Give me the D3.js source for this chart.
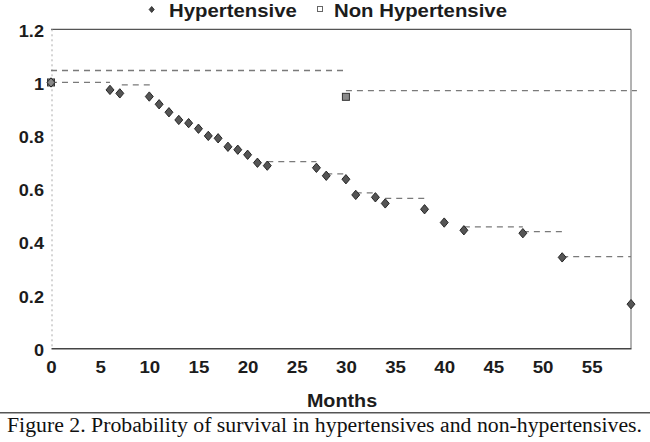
<!DOCTYPE html>
<html>
<head>
<meta charset="utf-8">
<script src="https://cdn.jsdelivr.net/npm/d3@7"></script>
<style>
  html, body { margin: 0; padding: 0; background: #fff; }
  svg { display: block; }
</style>
</head>
<body>
<div id="chart"></div>
<script>
// Survival data.
const hyperMonths = [0, 6, 7, 10, 11, 12, 13, 14, 15, 16, 17, 18, 19, 20, 21, 22,
  27, 28, 30, 31, 33, 34, 38, 40, 42, 48, 52, 59];
const hyperSurvival = [1.0, 0.972, 0.959, 0.947, 0.918, 0.888, 0.859, 0.847, 0.826,
  0.799, 0.790, 0.758, 0.747, 0.728, 0.698, 0.687, 0.679, 0.649, 0.636, 0.577,
  0.568, 0.545, 0.523, 0.473, 0.444, 0.433, 0.342, 0.166];

// Dashed step pieces: [from month, to month, level]
const hyperSteps = [
  [0, 6, 1.0], [7.2, 10.2, 0.991], [22, 27, 0.702], [28, 30, 0.656],
  [31, 33, 0.585], [34, 38, 0.564], [42, 48, 0.457], [48, 52, 0.439],
  [52, 59, 0.345]
];

const nonMonths = [0, 30];
const nonSurvival = [1.0, 0.946];
const nonSteps = [[0, 30, 1.045], [30, 59.6, 0.969]];

const xTicks = [0, 5, 10, 15, 20, 25, 30, 35, 40, 45, 50, 55];
const yTicks = [0, 0.2, 0.4, 0.6, 0.8, 1.0, 1.2];

const seriesNames = ['Hypertensive', 'Non Hypertensive'];
const xLabel = 'Months';
const caption = 'Figure 2. Probability of survival in hypertensives and non-hypertensives.';

const W = 650, H = 442;
const margins = { top: 29.3, right: 19, bottom: 93.7, left: 51 };
const width = W - margins.left - margins.right;
const height = H - margins.top - margins.bottom;

const FONT = 'Liberation Sans, Arial, sans-serif';
const INK = '#1c1c1c';

const svgRoot = d3.select('#chart').append('svg')
  .attr('width', W)
  .attr('height', H);

const svg = svgRoot.append('g')
  .attr('transform', `translate(${margins.left}, ${margins.top})`);

const x = d3.scaleLinear().domain([0, 59]).range([0, width]);
const y = d3.scaleLinear().domain([0, 1.2]).range([height, 0]);

// Diamond a bit wider than d3's own.
const diamond = {
  draw(ctx, size) {
    const h = Math.sqrt(size) * 0.55, w = h * 0.85;
    ctx.moveTo(0, -h); ctx.lineTo(w, 0); ctx.lineTo(0, h); ctx.lineTo(-w, 0); ctx.closePath();
  }
};

// Frame
svg.append('line')
  .attr('x1', 0).attr('x2', width).attr('y1', 0).attr('y2', 0)
  .attr('stroke', '#555').attr('stroke-width', 1.3);
svg.append('line')
  .attr('x1', width).attr('x2', width).attr('y1', 0).attr('y2', height)
  .attr('stroke', '#666').attr('stroke-width', 1);
svg.append('line')
  .attr('x1', 1).attr('x2', 1).attr('y1', 0).attr('y2', height)
  .attr('stroke', '#aaa').attr('stroke-width', 1)
  .attr('stroke-dasharray', '2,3');

// Axes
const xAxis = svg.append('g')
  .attr('transform', `translate(0, ${height})`)
  .call(d3.axisBottom(x).tickValues(xTicks).tickSize(0).tickPadding(0));
xAxis.select('.domain').attr('stroke', '#444').attr('stroke-width', 1.5);
xAxis.selectAll('text')
  .attr('y', 24.4).attr('dy', null)
  .attr('transform', 'scale(1.1,1)')
  .attr('fill', INK)
  .style('font', `bold 17px ${FONT}`);

const yAxis = svg.append('g')
  .call(d3.axisLeft(y).tickValues(yTicks).tickSize(0)
    .tickFormat(d => String(+d.toFixed(1))));
yAxis.select('.domain').remove();
yAxis.selectAll('text')
  .attr('x', -6.4).attr('dy', '0.42em')
  .attr('transform', 'scale(1.1,1)')
  .attr('fill', INK)
  .style('font', `bold 16.5px ${FONT}`);

// Dashed steps
const steps = svg.append('g')
  .attr('fill', 'none')
  .attr('stroke', '#7a7a7a')
  .attr('stroke-width', 1.3)
  .attr('stroke-dasharray', '6,5');

steps.selectAll('.hstep')
  .data(hyperSteps)
  .enter()
  .append('line')
  .attr('class', 'hstep')
  .attr('x1', d => x(d[0]))
  .attr('x2', d => x(d[1]))
  .attr('y1', d => y(d[2]))
  .attr('y2', d => y(d[2]));

steps.selectAll('.nstep')
  .data(nonSteps)
  .enter()
  .append('line')
  .attr('class', 'nstep')
  .attr('x1', d => x(d[0]))
  .attr('x2', d => x(d[1]))
  .attr('y1', d => y(d[2]))
  .attr('y2', d => y(d[2]));

// Non hypertensive markers (under the diamonds)
const non = nonMonths.map((m, i) => ({ x: m, y: nonSurvival[i] }));
svg.selectAll('.npt')
  .data(non)
  .enter()
  .append('rect')
  .attr('class', 'npt')
  .attr('x', d => x(d.x) - 3.5)
  .attr('y', d => y(d.y) - 3.5)
  .attr('width', 7)
  .attr('height', 7)
  .attr('fill', '#8a8a8a')
  .attr('stroke', '#333')
  .attr('stroke-width', 1);

// Hypertensive markers
const hyper = hyperMonths.map((m, i) => ({ x: m, y: hyperSurvival[i] }));
svg.selectAll('.hpt')
  .data(hyper)
  .enter()
  .append('path')
  .attr('class', 'hpt')
  .attr('d', d3.symbol().type(diamond).size(72))
  .attr('transform', d => `translate(${x(d.x)}, ${y(d.y)})`)
  .attr('fill', (d, i) => i === 0 ? '#888' : '#555')
  .attr('stroke', '#262626')
  .attr('stroke-width', 1);

// Legend
const legend = svgRoot.append('g');
legend.append('path')
  .attr('d', d3.symbol().type(diamond).size(30))
  .attr('transform', 'translate(151.7, 9.5)')
  .attr('fill', '#444').attr('stroke', '#222').attr('stroke-width', 0.8);
legend.append('rect')
  .attr('x', 317.5).attr('y', 6.5).attr('width', 5).attr('height', 5)
  .attr('fill', '#fff').attr('stroke', '#666').attr('stroke-width', 1);

const legendX = [169, 334];
legend.selectAll('.ltext')
  .data(seriesNames)
  .enter()
  .append('text')
  .attr('class', 'ltext')
  .attr('transform', (d, i) => `translate(${legendX[i]}, 17.3) scale(1.1,1)`)
  .attr('fill', INK)
  .style('font', `bold 18.5px ${FONT}`)
  .text(d => d);

// Axis title
svgRoot.append('text')
  .attr('transform', `translate(${(306.7 + 377.3) / 2}, 406.7) scale(1.13,1)`)
  .attr('text-anchor', 'middle')
  .attr('fill', INK)
  .style('font', `bold 17.5px ${FONT}`)
  .text(xLabel);

// Rule and caption
svgRoot.append('line')
  .attr('x1', 0).attr('x2', W).attr('y1', 412.7).attr('y2', 412.7)
  .attr('stroke', '#555').attr('stroke-width', 1.5);

svgRoot.append('text')
  .attr('x', 7).attr('y', 431.7)
  .attr('textLength', 635)
  .attr('lengthAdjust', 'spacingAndGlyphs')
  .attr('fill', '#111')
  .style('font', '20px Liberation Serif, Times New Roman, serif')
  .text(caption);
</script>
</body>
</html>
